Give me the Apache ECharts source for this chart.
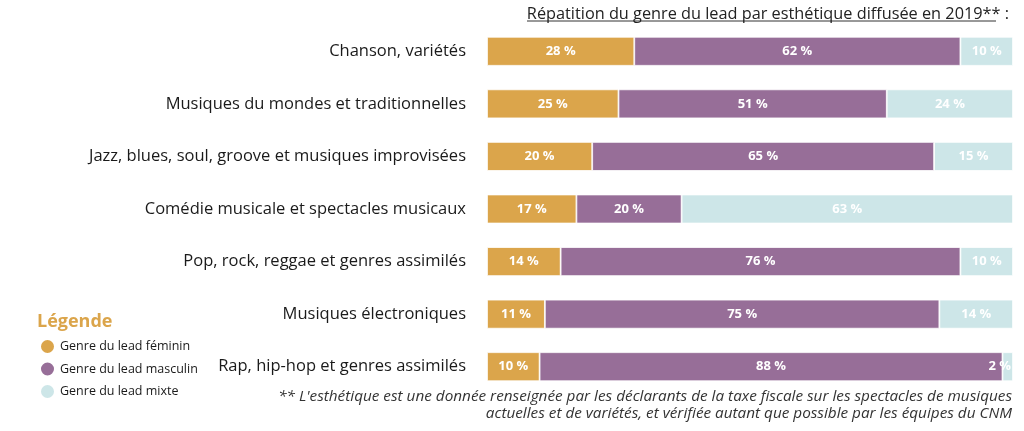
<!DOCTYPE html>
<html>
<head>
<meta charset="utf-8">
<script src="https://cdn.jsdelivr.net/npm/echarts@6/dist/echarts.min.js"></script>
<style>html,body{margin:0;padding:0;background:#fff}#c{width:1024px;height:431px}</style>
</head>
<body>
<div id="c"></div>
<script>
const categories = [
  "Chanson, variétés",
  "Musiques du mondes et traditionnelles",
  "Jazz, blues, soul, groove et musiques improvisées",
  "Comédie musicale et spectacles musicaux",
  "Pop, rock, reggae et genres assimilés",
  "Musiques électroniques",
  "Rap, hip-hop et genres assimilés"
];
const feminin = [28, 25, 20, 17, 14, 11, 10];
const masculin = [62, 51, 65, 20, 76, 75, 88];
const mixte = [10, 24, 15, 63, 10, 14, 2];
const seriesNames = ["Genre du lead féminin", "Genre du lead masculin", "Genre du lead mixte"];
const titleText = "Répatition du genre du lead par esthétique diffusée en 2019** :";
const noteLines = [
  "** L'esthétique est une donnée renseignée par les déclarants de la taxe fiscale sur les spectacles de musiques",
  "actuelles et de variétés, et vérifiée autant que possible par les équipes du CNM"
];

const colors = ["#DBA54B", "#976E98", "#CDE6E8"];
const font = "'Open Sans', 'DejaVu Sans', sans-serif";
const chart = echarts.init(document.getElementById('c'));

function mk(name, data, color) {
  return {
    name: name, type: 'bar', stack: 'total', barWidth: 29,
    data: data.map(function (v) {
      return v < 5 ? { value: v, label: { position: 'insideRight', distance: 2 } } : v;
    }),
    itemStyle: { color: color, borderColor: '#fff', borderWidth: 0.8 },
    label: { show: true, position: 'inside', color: '#fff', fontWeight: 'bold',
      fontSize: 13, fontFamily: font, formatter: '{c} %' }
  };
}

chart.setOption({
  animation: false,
  color: colors,
  grid: { left: 487, right: 11, top: 25, bottom: 38, containLabel: false },
  xAxis: { type: 'value', min: 0, max: 100, show: false },
  yAxis: {
    type: 'category', data: categories, inverse: true,
    axisLine: { show: false }, axisTick: { show: false },
    axisLabel: { color: '#1a1a1a', fontSize: 16.5, fontFamily: font, margin: 21 }
  },
  legend: {
    orient: 'vertical', left: 34, top: 333, icon: 'circle',
    itemWidth: 15, itemHeight: 15, itemGap: 5.5,
    textStyle: { color: '#1a1a1a', fontSize: 12.5, fontFamily: font },
    data: seriesNames
  },
  title: {
    text: titleText, right: 10, top: 1,
    textStyle: { color: '#222', fontSize: 16.3, fontWeight: 'normal', fontFamily: font }
  },
  graphic: [
    { type: 'line', shape: { x1: 527, y1: 21, x2: 996, y2: 21 }, style: { stroke: '#333', lineWidth: 1 } },
    { type: 'text', left: 37, top: 313,
      style: { text: 'Légende', fill: '#DBA54B', font: "bold 18px " + font } },
    { type: 'text', right: 12, top: 388,
      style: { text: noteLines.join('\n'), fill: '#333', font: "italic 15.3px " + font, textAlign: 'right', lineHeight: 17 } }
  ],
  series: [
    mk(seriesNames[0], feminin, colors[0]),
    mk(seriesNames[1], masculin, colors[1]),
    mk(seriesNames[2], mixte, colors[2])
  ]
});
</script>
</body>
</html>
